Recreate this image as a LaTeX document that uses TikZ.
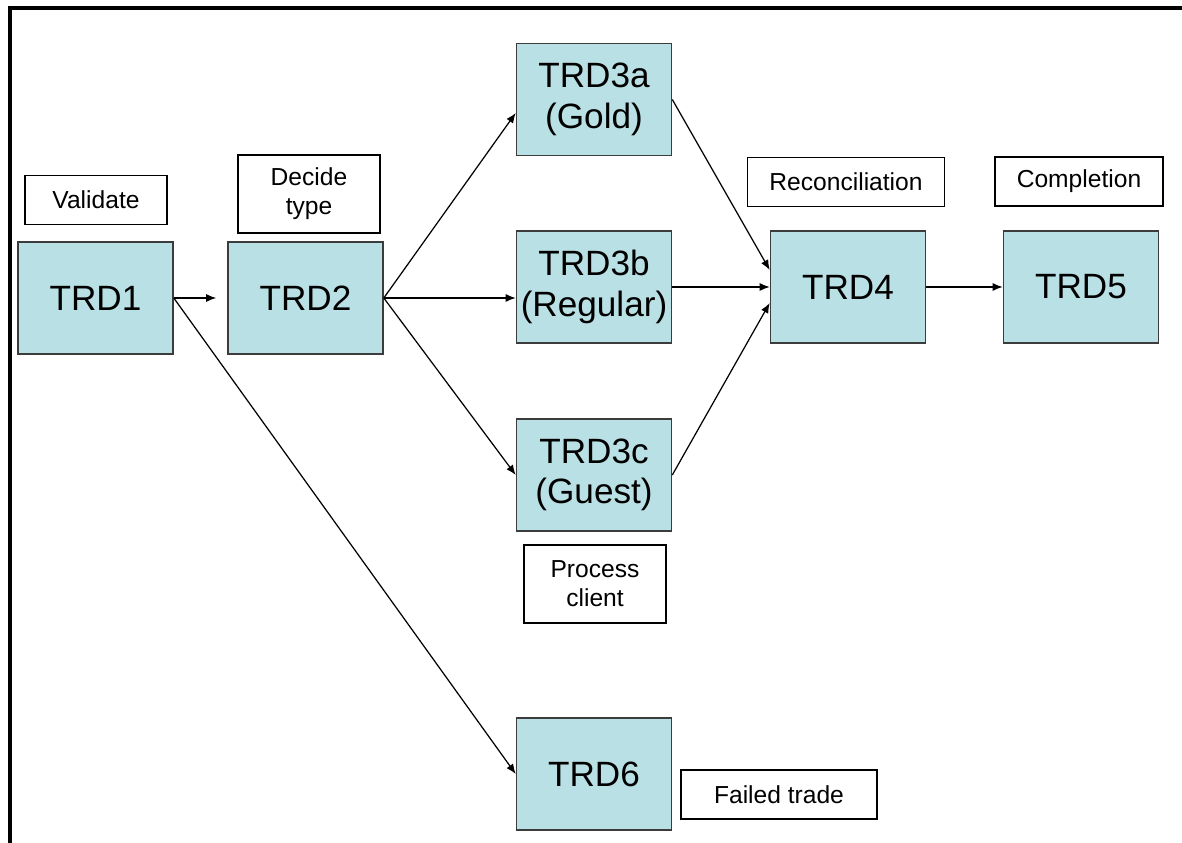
\documentclass[tikz,border=0pt]{standalone}
\usepackage{fontspec}
\setmainfont{Liberation Sans}
\usepackage{tikz}
\usetikzlibrary{shapes,positioning,calc}
\usetikzlibrary{arrows.meta}
\definecolor{azzurro}{RGB}{185,224,228}
\definecolor{bordo}{RGB}{60,60,60}
\tikzstyle{fase} = [rectangle, minimum width=3.1cm, minimum height=2.24cm, text centered, align=center, fill=azzurro, draw=bordo, line width=0.9pt, inner sep=0pt, font=\fontsize{20}{23}\selectfont]
\tikzstyle{etichetta} = [rectangle, minimum height=0.98cm, text centered, align=center, draw=black, line width=0.8pt, inner sep=0pt, font=\fontsize{14}{16.4}\selectfont]
\tikzstyle{freccia} = [line width=0.7pt,-{Latex[length=2mm,width=1.6mm]}]

\begin{document}
\begin{tikzpicture}
						\useasboundingbox (0,0) rectangle (23.64,16.86);
						\draw[line width=2pt] (0.2,0) -- (0.2,16.7) -- (23.64,16.7);
						% fasi
						\node (trd1) at (1.91,10.9) [fase] {TRD1};
						\node (trd2) at (6.11,10.9) [fase] {TRD2};
						\node (trd3a) at (11.88,14.87) [fase] {TRD3a\\(Gold)};
						\node (trd3b) at (11.88,11.12) [fase] {TRD3b\\(Regular)};
						\node (trd3c) at (11.88,7.36) [fase] {TRD3c\\(Guest)};
						\node (trd4) at (16.96,11.12) [fase] {TRD4};
						\node (trd5) at (21.62,11.12) [fase] {TRD5};
						\node (trd6) at (11.88,1.38) [fase] {TRD6};
						% etichette
						\node (val) at (1.92,12.86) [etichetta, minimum width=2.84cm] {Validate};
						\node (dec) at (6.18,12.98) [etichetta, minimum width=2.84cm, minimum height=1.56cm] {Decide\\type};
						\node (rec) at (16.92,13.22) [etichetta, minimum width=3.94cm] {Reconciliation};
						\node (compl) at (21.58,13.23) [etichetta, minimum width=3.36cm] {Completion};
						\node (proc) at (11.9,5.18) [etichetta, minimum width=2.84cm, minimum height=1.56cm] {Process\\client};
						\node (fail) at (15.58,0.97) [etichetta, minimum width=3.92cm] {Failed trade};
						% frecce
						\draw[freccia, shorten >=0.22cm] (trd1.east) -- (trd2.west);
						\draw[freccia] (trd1.east) -- (trd6.west);
						\draw[freccia] (trd2.east) -- ([yshift=-0.27cm]trd3a.west);
						\draw[freccia] (trd2.east) -- (trd3b.west |- trd2.east);
						\draw[freccia] (trd2.east) -- (trd3c.west);
						\draw[freccia] (trd3a.east) -- ([yshift=0.34cm]trd4.west);
						\draw[freccia] (trd3b.east) -- (trd4.west);
						\draw[freccia] (trd3c.east) -- ([yshift=-0.32cm]trd4.west);
						\draw[freccia] (trd4.east) -- (trd5.west);
					\end{tikzpicture}
\end{document}
